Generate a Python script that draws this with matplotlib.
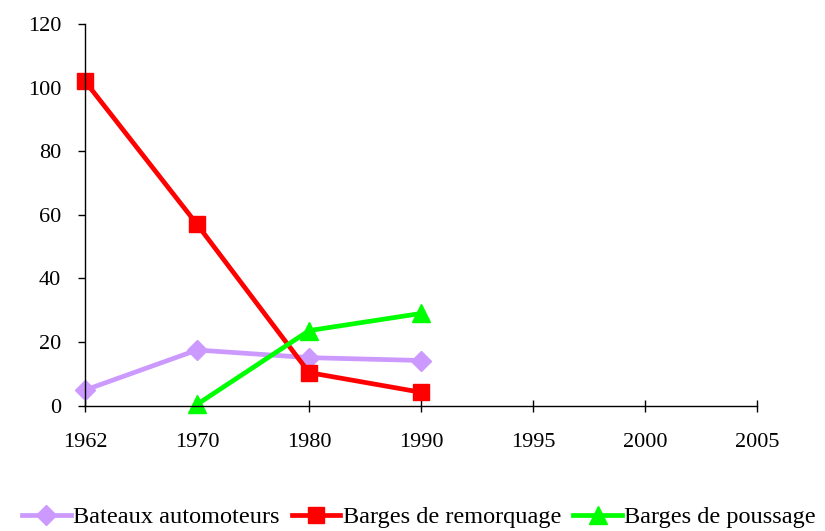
import numpy as np
import matplotlib.pyplot as plt

# Categories on the x axis (equally spaced, like a category axis)
years = ['1962', '1970', '1980', '1990', '1995', '2000', '2005']

# Series values (None = no data)
bateaux = [4.9, 17.5, 15.1, 14.2]
remorquage = [102, 57, 10.4, 4.2]
poussage = [None, 0.4, 23.6, 29]

plt.rcParams['font.family'] = ['Liberation Serif', 'DejaVu Serif']

fig = plt.figure(figsize=(8.25, 5.31), dpi=100)
ax = fig.add_axes([0.103, 0.236, 0.815, 0.719])

x = np.arange(len(years))

def to_arr(vals):
    return np.array([np.nan if v is None else v for v in vals], dtype=float)

ax.plot(x[:len(bateaux)], to_arr(bateaux), color='#CC99FF', lw=3.4,
        marker='D', ms=10, label='Bateaux automoteurs')
ax.plot(x[:len(remorquage)], to_arr(remorquage), color='#FF0000', lw=3.4,
        marker='s', ms=12, label='Barges de remorquage')
ax.plot(x[:len(poussage)], to_arr(poussage), color='#00FF00', lw=3.4,
        marker='^', ms=13, label='Barges de poussage')

ax.set_xlim(0, len(years) - 1)
ax.set_ylim(0, 120)
ax.set_xticks(x)
ax.set_xticklabels(years)
ax.set_yticks(np.arange(0, 121, 20))

for s in ['top', 'right']:
    ax.spines[s].set_visible(False)
for s in ['left', 'bottom']:
    ax.spines[s].set_linewidth(1.0)
    ax.spines[s].set_clip_on(False)

ax.tick_params(axis='y', direction='out', length=5, width=1, pad=12, labelsize=16)
ax.tick_params(axis='x', direction='inout', length=8, width=1, pad=16, labelsize=16)

for line in ax.lines:
    line.set_clip_on(False)

fig.legend(loc='lower center', bbox_to_anchor=(0.508, -0.022), ncol=3, frameon=False,
           fontsize=17.5, handlelength=2.0, handletextpad=0.1, columnspacing=0.5,
           borderaxespad=0.2)

fig.savefig('out.png', dpi=100)
